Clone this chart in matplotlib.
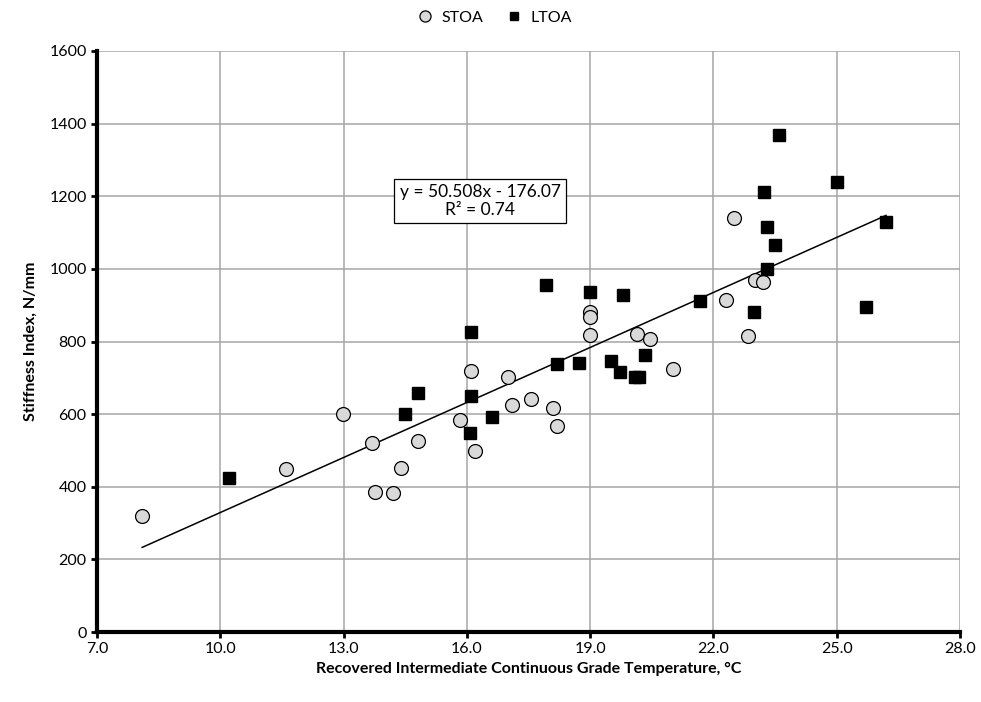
import matplotlib.pyplot as plt
import matplotlib.ticker as ticker

plt.rcParams['font.family'] = ['Lato', 'DejaVu Sans']
plt.rcParams['font.size'] = 11

# STOA data (circles)
stoa_x = [8.1, 11.6, 12.98, 13.7, 13.77, 14.2, 14.4, 14.8, 15.84, 16.1, 16.19,
          17.0, 17.1, 17.55, 18.1, 18.19, 19.0, 19.0, 19.0, 20.15, 20.46, 21.02,
          22.31, 22.85, 23.0, 23.21, 22.5]
stoa_y = [320, 449, 600, 520, 385, 382, 452, 527, 584, 719, 499,
          703, 624, 643, 617, 567, 818, 882, 868, 821, 806, 724,
          914, 816, 970, 965, 1140]

# LTOA data (squares)
ltoa_x = [10.22, 14.5, 14.82, 16.11, 16.11, 16.08, 16.61, 18.2, 18.72, 19.5,
          19.73, 20.09, 20.19, 20.33, 17.92, 19.0, 19.8, 21.68, 22.98, 23.3,
          23.5, 23.3, 23.24, 23.6, 25.0, 26.2, 25.72]
ltoa_y = [423, 600, 657, 826, 650, 547, 593, 738, 742, 747,
          715, 703, 702, 764, 956, 936, 927, 912, 882, 1000,
          1065, 1115, 1211, 1370, 1238, 1130, 896]

# linear trendline (all data)
slope = 50.508
intercept = -176.07
r2 = 0.74

x_ticks = [7.0, 10.0, 13.0, 16.0, 19.0, 22.0, 25.0, 28.0]

fig = plt.figure(figsize=(9.81, 7.02), dpi=100)
ax = fig.add_axes([97 / 981, 1 - 632 / 702, (960 - 97) / 981, (632 - 51) / 702])

all_x = stoa_x + ltoa_x
tx = [min(all_x), max(all_x)]
ty = [slope * v + intercept for v in tx]
ax.plot(tx, ty, color='black', linewidth=1.1, zorder=2)

ax.plot(stoa_x, stoa_y, 'o', markersize=10, markerfacecolor='#d9d9d9',
        markeredgecolor='black', markeredgewidth=0.9, label='STOA', zorder=3)
ax.plot(ltoa_x, ltoa_y, 's', markersize=8, markerfacecolor='black',
        markeredgecolor='black', label='LTOA', zorder=3)

ax.set_xlim(7, 28)
ax.set_ylim(0, 1600)
ax.set_xticks(x_ticks)
ax.yaxis.set_major_locator(ticker.MultipleLocator(200))
ax.xaxis.set_major_formatter(ticker.FormatStrFormatter('%.1f'))

ax.grid(True, color='#a6a6a6', linewidth=1.1)
ax.set_axisbelow(True)
for s in ['top', 'right']:
    ax.spines[s].set_visible(False)
for s in ['left', 'bottom']:
    ax.spines[s].set_linewidth(3)
ax.tick_params(direction='out', length=4, width=2, labelsize=11.5)

ax.set_xlabel('Recovered Intermediate Continuous Grade Temperature, °C',
              fontweight='bold', fontsize=11.5, labelpad=4)
ax.set_ylabel('Stiffness Index, N/mm', fontweight='bold', fontsize=11.5, labelpad=8)

ax.text(16.32, 1187, 'y = %.3fx - %.2f\nR² = %.2f' % (slope, -intercept, r2),
        ha='center', va='center', fontsize=12.5, linespacing=1.15,
        bbox=dict(boxstyle='square,pad=0.3', facecolor='white',
                  edgecolor='black', linewidth=0.9), zorder=4)

fig.legend(loc='upper center', bbox_to_anchor=(0.5, 1.005), ncol=2, frameon=False,
           fontsize=11.5, handletextpad=0.05, columnspacing=0.9, markerscale=0.8)

plt.savefig('out.png', dpi=100)
